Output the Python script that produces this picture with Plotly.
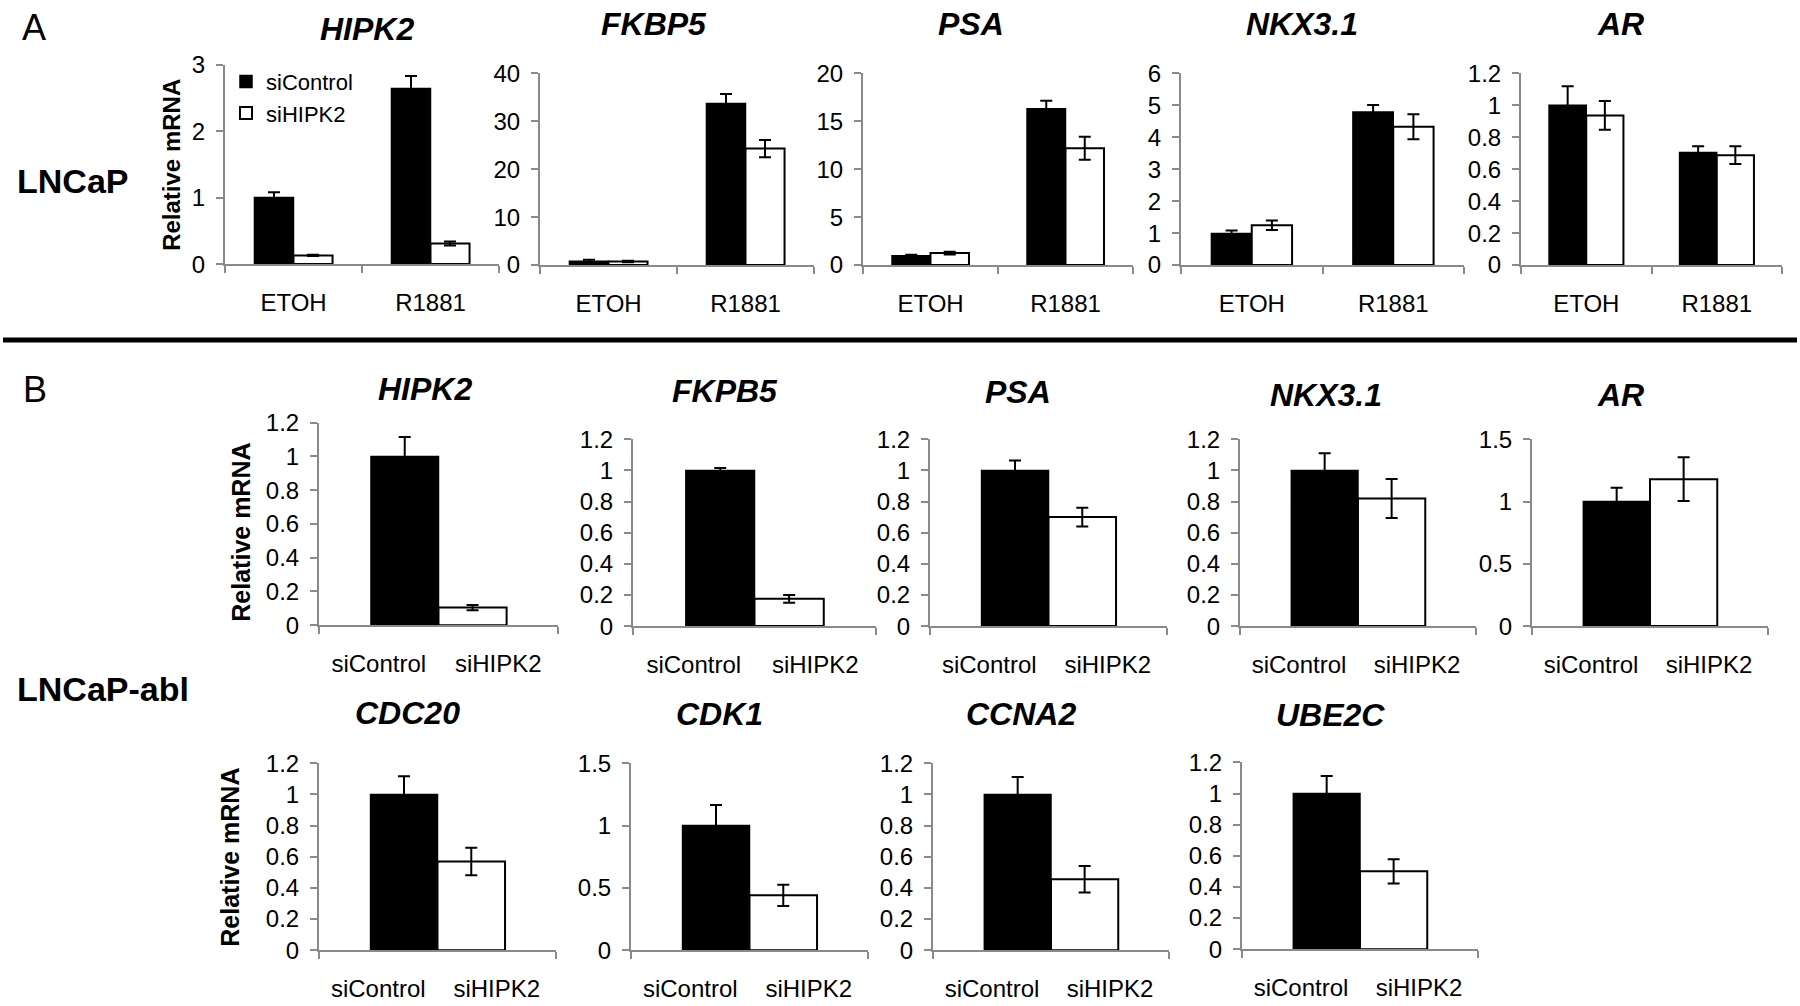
import plotly.graph_objects as go

W, H = 1800, 1006

# ---------------- data ----------------
# Panel A: LNCaP, ETOH vs R1881
a_genes = ["HIPK2", "FKBP5", "PSA", "NKX3.1", "AR"]
a_conditions = ["ETOH", "R1881"]
a_ctrl = [[1.00, 2.64], [0.80, 33.7], [0.98, 16.3], [0.99, 4.79], [1.00, 0.704]]
a_ctrl_err = [[0.08, 0.19], [0.30, 2.0], [0.10, 0.85], [0.09, 0.22], [0.12, 0.04]]
a_si = [[0.13, 0.31], [0.75, 24.3], [1.25, 12.2], [1.245, 4.33], [0.937, 0.688]]
a_si_err = [[0.01, 0.03], [0.15, 1.8], [0.15, 1.2], [0.15, 0.39], [0.09, 0.055]]
a_ymax = [3, 40, 20, 6, 1.2]
a_dtick = [1, 10, 5, 1, 0.2]

# Panel B: LNCaP-abl, siControl vs siHIPK2
b_conditions = ["siControl", "siHIPK2"]
b1_genes = ["HIPK2", "FKPB5", "PSA", "NKX3.1", "AR"]
b1_ctrl = [1.0, 1.0, 1.0, 1.0, 1.0]
b1_ctrl_err = [0.115, 0.015, 0.063, 0.11, 0.11]
b1_si = [0.104, 0.175, 0.70, 0.82, 1.18]
b1_si_err = [0.015, 0.025, 0.06, 0.125, 0.175]
b1_ymax = [1.2, 1.2, 1.2, 1.2, 1.5]
b1_dtick = [0.2, 0.2, 0.2, 0.2, 0.5]

b2_genes = ["CDC20", "CDK1", "CCNA2", "UBE2C"]
b2_ctrl = [1.0, 1.0, 1.0, 1.0]
b2_ctrl_err = [0.117, 0.165, 0.113, 0.113]
b2_si = [0.57, 0.44, 0.455, 0.50]
b2_si_err = [0.088, 0.085, 0.085, 0.078]
b2_ymax = [1.2, 1.5, 1.2, 1.2]
b2_dtick = [0.2, 0.5, 0.2, 0.2]

series_names = ["siControl", "siHIPK2"]

# ---------------- layout geometry (pixels) ----------------
a_xdom = [(225, 499), (540, 814), (863, 1133), (1181, 1464), (1521, 1782)]
a_ydom = [(52, 257), (61, 258), (61, 258), (61, 258), (61, 258)]
a_title_pos = [(367, 15), (654, 10), (971, 10), (1302, 10), (1620, 10)]

b1_xdom = [(319, 558), (633, 876), (930, 1167), (1240, 1476), (1532, 1768)]
b1_ydom = [(420, 628), (437, 629), (437, 629), (437, 629), (437, 629)]
b1_title_pos = [(425, 385), (725, 387), (1018, 388), (1326, 391), (1620, 392)]

b2_xdom = [(319, 556), (631, 868), (933, 1169), (1242, 1478)]
b2_ydom = [(770, 962), (770, 962), (770, 962), (769, 961)]
b2_title_pos = [(407, 718), (719, 719), (1021, 719), (1330, 720)]

FONT = "Liberation Sans, Arial, sans-serif"
AXIS_GRAY = "#8a8a8a"
TICK_SIZE = 24


def px_x(p):
    return p / W


def px_y(p):
    return 1 - p / H


fig = go.Figure()
layout = {}
annotations = []
n = 0


def add_axes(n, xdom, ydom, ymax, dtick, cats, boundaries):
    xk = "xaxis" if n == 1 else f"xaxis{n}"
    yk = "yaxis" if n == 1 else f"yaxis{n}"
    xa = "x" if n == 1 else f"x{n}"
    ya = "y" if n == 1 else f"y{n}"
    layout[xk] = dict(
        domain=[px_x(xdom[0]), px_x(xdom[1])],
        anchor=ya,
        range=[-0.5, 1.5],
        tickmode="array",
        tickvals=list(range(len(cats))),
        ticktext=cats,
        ticks="",
        showline=True,
        linecolor=AXIS_GRAY,
        linewidth=2,
        showgrid=False,
        zeroline=False,
        tickfont=dict(family=FONT, size=TICK_SIZE, color="black"),
        ticklabelstandoff=16,
        minor=dict(
            tickmode="array",
            tickvals=boundaries,
            ticks="outside",
            ticklen=7,
            tickwidth=2,
            tickcolor=AXIS_GRAY,
            showgrid=False,
        ),
        fixedrange=True,
    )
    layout[yk] = dict(
        domain=[px_y(ydom[1]), px_y(ydom[0])],
        anchor=xa,
        range=[0, ymax],
        tickmode="linear",
        tick0=0,
        dtick=dtick,
        ticks="outside",
        ticklen=7,
        tickwidth=2,
        tickcolor=AXIS_GRAY,
        showline=True,
        linecolor=AXIS_GRAY,
        linewidth=2,
        showgrid=False,
        zeroline=False,
        tickfont=dict(family=FONT, size=TICK_SIZE, color="black"),
        ticklabelstandoff=6,
        fixedrange=True,
    )
    return xa, ya


def title_ann(text, pos):
    annotations.append(dict(
        text=f"<b><i>{text}</i></b>", x=px_x(pos[0]), y=px_y(pos[1]),
        xref="paper", yref="paper", xanchor="center", yanchor="middle",
        showarrow=False, font=dict(family=FONT, size=32, color="black")))


err_style = dict(type="data", symmetric=True, color="black", thickness=2, width=6)

# ---- Panel A ----
for i, g in enumerate(a_genes):
    n += 1
    xa, ya = add_axes(n, a_xdom[i], a_ydom[i], a_ymax[i], a_dtick[i],
                      a_conditions, [-0.5, 0.5, 1.5])
    pos = list(range(len(a_conditions)))
    fig.add_trace(go.Bar(
        x=pos, y=a_ctrl[i], offset=-0.285, width=0.285, xaxis=xa, yaxis=ya,
        name=series_names[0], legendgroup="c", showlegend=(i == 0),
        marker=dict(color="black", line=dict(color="black", width=1.5)),
        error_y=dict(array=a_ctrl_err[i], **err_style)))
    fig.add_trace(go.Bar(
        x=pos, y=a_si[i], offset=0, width=0.285, xaxis=xa, yaxis=ya,
        name=series_names[1], legendgroup="s", showlegend=(i == 0),
        marker=dict(color="white", line=dict(color="black", width=2)),
        error_y=dict(array=a_si_err[i], **err_style)))
    title_ann(g, a_title_pos[i])


def add_b_panel(n, gene, ctrl, ctrl_err, si, si_err, ymax, dtick, xdom, ydom, tpos):
    xa, ya = add_axes(n, xdom, ydom, ymax, dtick, b_conditions, [-0.5, 1.5])
    fig.add_trace(go.Bar(
        x=[0], y=[ctrl], offset=-0.065, width=0.565, xaxis=xa, yaxis=ya,
        name=series_names[0], showlegend=False,
        marker=dict(color="black", line=dict(color="black", width=1.5)),
        error_y=dict(array=[ctrl_err], **err_style)))
    fig.add_trace(go.Bar(
        x=[1], y=[si], offset=-0.5, width=0.57, xaxis=xa, yaxis=ya,
        name=series_names[1], showlegend=False,
        marker=dict(color="white", line=dict(color="black", width=2)),
        error_y=dict(array=[si_err], **err_style)))
    title_ann(gene, tpos)


for i, g in enumerate(b1_genes):
    n += 1
    add_b_panel(n, g, b1_ctrl[i], b1_ctrl_err[i], b1_si[i], b1_si_err[i],
                b1_ymax[i], b1_dtick[i], b1_xdom[i], b1_ydom[i], b1_title_pos[i])

for i, g in enumerate(b2_genes):
    n += 1
    add_b_panel(n, g, b2_ctrl[i], b2_ctrl_err[i], b2_si[i], b2_si_err[i],
                b2_ymax[i], b2_dtick[i], b2_xdom[i], b2_ydom[i], b2_title_pos[i])

# ---- labels ----
def text_ann(text, x, y, size, xanchor="center", angle=0):
    annotations.append(dict(
        text=text, x=px_x(x), y=px_y(y), xref="paper", yref="paper",
        xanchor=xanchor, yanchor="middle", showarrow=False, textangle=angle,
        font=dict(family=FONT, size=size, color="black")))


text_ann("A", 34, 14, 36)
text_ann("B", 35, 386, 36)
text_ann("<b>LNCaP</b>", 15, 172, 34, xanchor="left")
text_ann("<b>LNCaP-abl</b>", 15, 694, 34, xanchor="left")
text_ann("<b>Relative mRNA</b>", 172, 155, 24, angle=-90)
text_ann("<b>Relative mRNA</b>", 241, 533, 25, angle=-90)
text_ann("<b>Relative mRNA</b>", 230, 866, 25, angle=-90)

shapes = [dict(type="line", xref="paper", yref="paper",
               x0=px_x(3), x1=px_x(1797), y0=px_y(335), y1=px_y(335),
               line=dict(color="black", width=5))]

fig.update_layout(
    width=W, height=H,
    margin=dict(l=0, r=0, t=0, b=0),
    paper_bgcolor="white", plot_bgcolor="white",
    barmode="overlay",
    showlegend=True,
    legend=dict(x=px_x(226), y=px_y(48), xanchor="left", yanchor="top",
                bgcolor="rgba(0,0,0,0)", font=dict(family=FONT, size=22, color="black"),
                itemwidth=30, tracegroupgap=0, traceorder="normal"),
    annotations=annotations,
    shapes=shapes,
    **layout,
)

fig.write_html("out.html")
